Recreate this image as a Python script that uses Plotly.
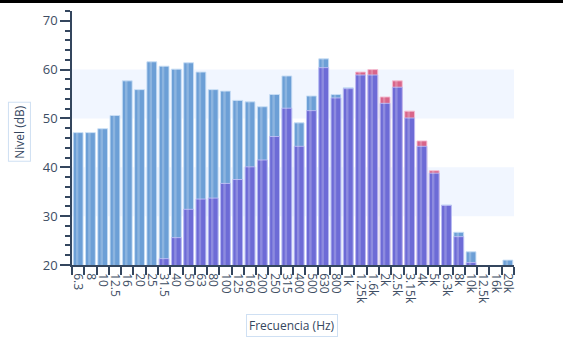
import plotly.graph_objects as go

categories = ["6.3", "8", "10", "12.5", "16", "20", "25", "31.5", "40", "50", "63", "80",
              "100", "125", "160", "200", "250", "315", "400", "500", "630", "800", "1k",
              "1.25k", "1.6k", "2k", "2.5k", "3.15k", "4k", "5k", "6.3k", "8k", "10k",
              "12.5k", "16k", "20k"]

nivel_z = [47.1, 47.1, 47.9, 50.6, 57.7, 55.9, 61.6, 60.7, 60.1, 61.4, 59.5, 55.9,
           55.6, 53.7, 53.4, 52.4, 54.9, 58.7, 49.1, 54.6, 62.2, 54.9, 56.3,
           58.9, 58.9, 53.1, 56.4, 50.1, 44.3, 38.8, 32.3, 26.7, 22.7,
           18.0, 15.0, 21.0]

nivel_a = [-38.0, -30.0, -22.0, -13.0, 1.0, 5.0, 17.0, 21.3, 25.6, 31.4, 33.5, 33.7,
           36.7, 37.5, 40.1, 41.5, 46.3, 52.1, 44.3, 51.6, 60.4, 54.2, 56.1,
           58.9, 58.9, 53.1, 56.4, 50.1, 44.3, 38.8, 32.2, 25.8, 20.5,
           14.0, 9.0, 11.7]

nivel_exceso = [None] * 23 + [59.5, 60.0, 54.4, 57.7, 51.5, 45.4, 39.3] + [None] * 6

series = [
    ("Z", nivel_z, "#6c9fd6", "rgba(200,222,245,0.9)"),
    ("Exceso", nivel_exceso, "#d9658a", "rgba(245,190,210,0.9)"),
    ("A", nivel_a, "#6d6bd6", "rgba(190,190,245,0.9)"),
]

fig = go.Figure()
for name, vals, col, edge in series:
    fig.add_trace(go.Bar(x=categories, y=vals, name=name, width=0.8, offset=-0.4,
                         marker=dict(color=col, line=dict(color=edge, width=1)),
                         hoverinfo="skip", showlegend=False))
    fig.add_trace(go.Bar(x=categories, y=vals, width=0.2, offset=-0.18,
                         marker=dict(color="rgba(255,255,255,0.22)", line=dict(width=0)),
                         hoverinfo="skip", showlegend=False))

axis_col = "#34465e"
fig.update_layout(
    width=563, height=339,
    margin=dict(l=72, r=49, t=11, b=74),
    barmode="overlay",
    plot_bgcolor="white", paper_bgcolor="white",
    font=dict(family="Open Sans", size=11, color="#3d4d63"),
    xaxis=dict(type="category", tickmode="array", tickvals=categories, ticktext=categories,
               tickson="boundaries", ticks="outside", ticklen=8, ticklabelstandoff=4,
               tickcolor=axis_col, tickwidth=1.5, tickangle=90, automargin=False,
               showline=True, linecolor=axis_col, linewidth=1.5, showgrid=False,
               range=[-0.5, 35.5], tickfont=dict(size=12)),
    yaxis=dict(range=[20, 72], dtick=10, ticks="outside", ticklen=10, tickcolor=axis_col,
               tickwidth=1.5, showline=True, linecolor=axis_col, linewidth=1.5,
               showgrid=False, zeroline=False, tickfont=dict(size=13), automargin=False,
               minor=dict(dtick=2, ticks="outside", ticklen=5, tickcolor=axis_col, tickwidth=1.5)),
    shapes=[
        dict(type="rect", xref="paper", yref="y", x0=0, x1=1, y0=30, y1=40,
             fillcolor="#f1f6ff", line=dict(width=0), layer="below"),
        dict(type="rect", xref="paper", yref="y", x0=0, x1=1, y0=50, y1=60,
             fillcolor="#f1f6ff", line=dict(width=0), layer="below"),
        dict(type="line", xref="paper", yref="paper", x0=-0.17, x1=1.12,
             y0=1.037, y1=1.037, line=dict(color="black", width=3)),
    ],
    annotations=[
        dict(text="Nivel (dB)", xref="paper", yref="paper", x=-0.118, y=0.524,
             xanchor="center", yanchor="middle",
             textangle=-90, showarrow=False, font=dict(size=12, color=axis_col),
             bordercolor="#cfe0f3", borderwidth=1, borderpad=2, bgcolor="white"),
        dict(text="Frecuencia (Hz)", xref="paper", yref="paper", x=0.498, y=-0.24,
             xanchor="center", yanchor="middle",
             showarrow=False, font=dict(size=12, color=axis_col),
             bordercolor="#cfe0f3", borderwidth=1, borderpad=2, bgcolor="white"),
    ],
)

fig.write_html("out.html", config={"displayModeBar": False},
               post_script="document.body.style.margin='0';")
